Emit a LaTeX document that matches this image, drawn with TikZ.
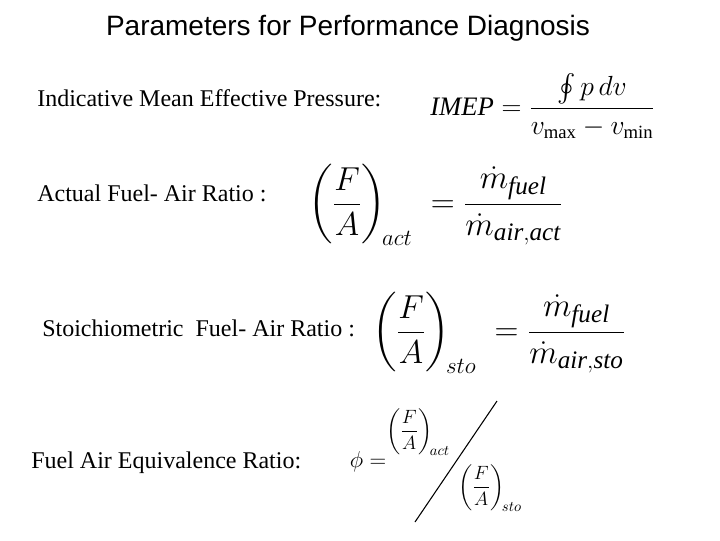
\documentclass[tikz,border=0pt]{standalone}
\usepackage{amsmath}
\usepackage{fontspec}
\setmainfont{Liberation Serif}
\newfontfamily\arialf{Liberation Sans}
\tikzset{lbl/.style={anchor=west,inner sep=0pt,font=\fontsize{18}{22}\selectfont},
 frm/.style={inner sep=0pt}}
\begin{document}
\begin{tikzpicture}[x=0.75pt,y=-0.75pt]
\useasboundingbox (0,0) rectangle (720,540);
\node[frm,font=\arialf\fontsize{21}{25}\selectfont] (title) at (348,28) {Parameters for Performance Diagnosis};
\node[lbl] (t1) at (37,98) {Indicative Mean Effective Pressure:};
\node[lbl] (t2) at (37,193) {Actual Fuel- Air Ratio :};
\node[lbl] (t3) at (42,328) {Stoichiometric\ \ Fuel- Air Ratio :};
\node[lbl] (t4) at (31,463) {Fuel Air Equivalence Ratio:};
\node[frm,anchor=west,font=\fontsize{20}{24}\selectfont] (f1) at (430,106)
 {$\displaystyle \mathit{IMEP}=\frac{\oint p\,dv}{v_{\max}-v_{\min}}$};
\node[frm,anchor=west,font=\fontsize{27}{32}\selectfont] (f2) at (308,205)
 {$\displaystyle \left(\frac{F}{A}\right)_{\!act}\;=\frac{\dot m_{\mathit{fuel}}}{\dot m_{\mathit{air,act}}}$};
\node[frm,anchor=west,font=\fontsize{27}{32}\selectfont] (f3) at (372,333)
 {$\displaystyle \left(\frac{F}{A}\right)_{\!sto}\;=\frac{\dot m_{\mathit{fuel}}}{\dot m_{\mathit{air,sto}}}$};
\node[frm,font=\fontsize{16}{19}\selectfont] (phi) at (368,462) {$\phi=$};
\node[frm,font=\fontsize{15}{18}\selectfont] (fa) at (418,432) {$\displaystyle\left(\frac{F}{A}\right)_{\!act}$};
\node[frm,font=\fontsize{15}{18}\selectfont] (fs) at (490,488) {$\displaystyle\left(\frac{F}{A}\right)_{\!sto}$};
\draw[line width=0.8pt] (497,401) -- (415,522);
\end{tikzpicture}
\end{document}
